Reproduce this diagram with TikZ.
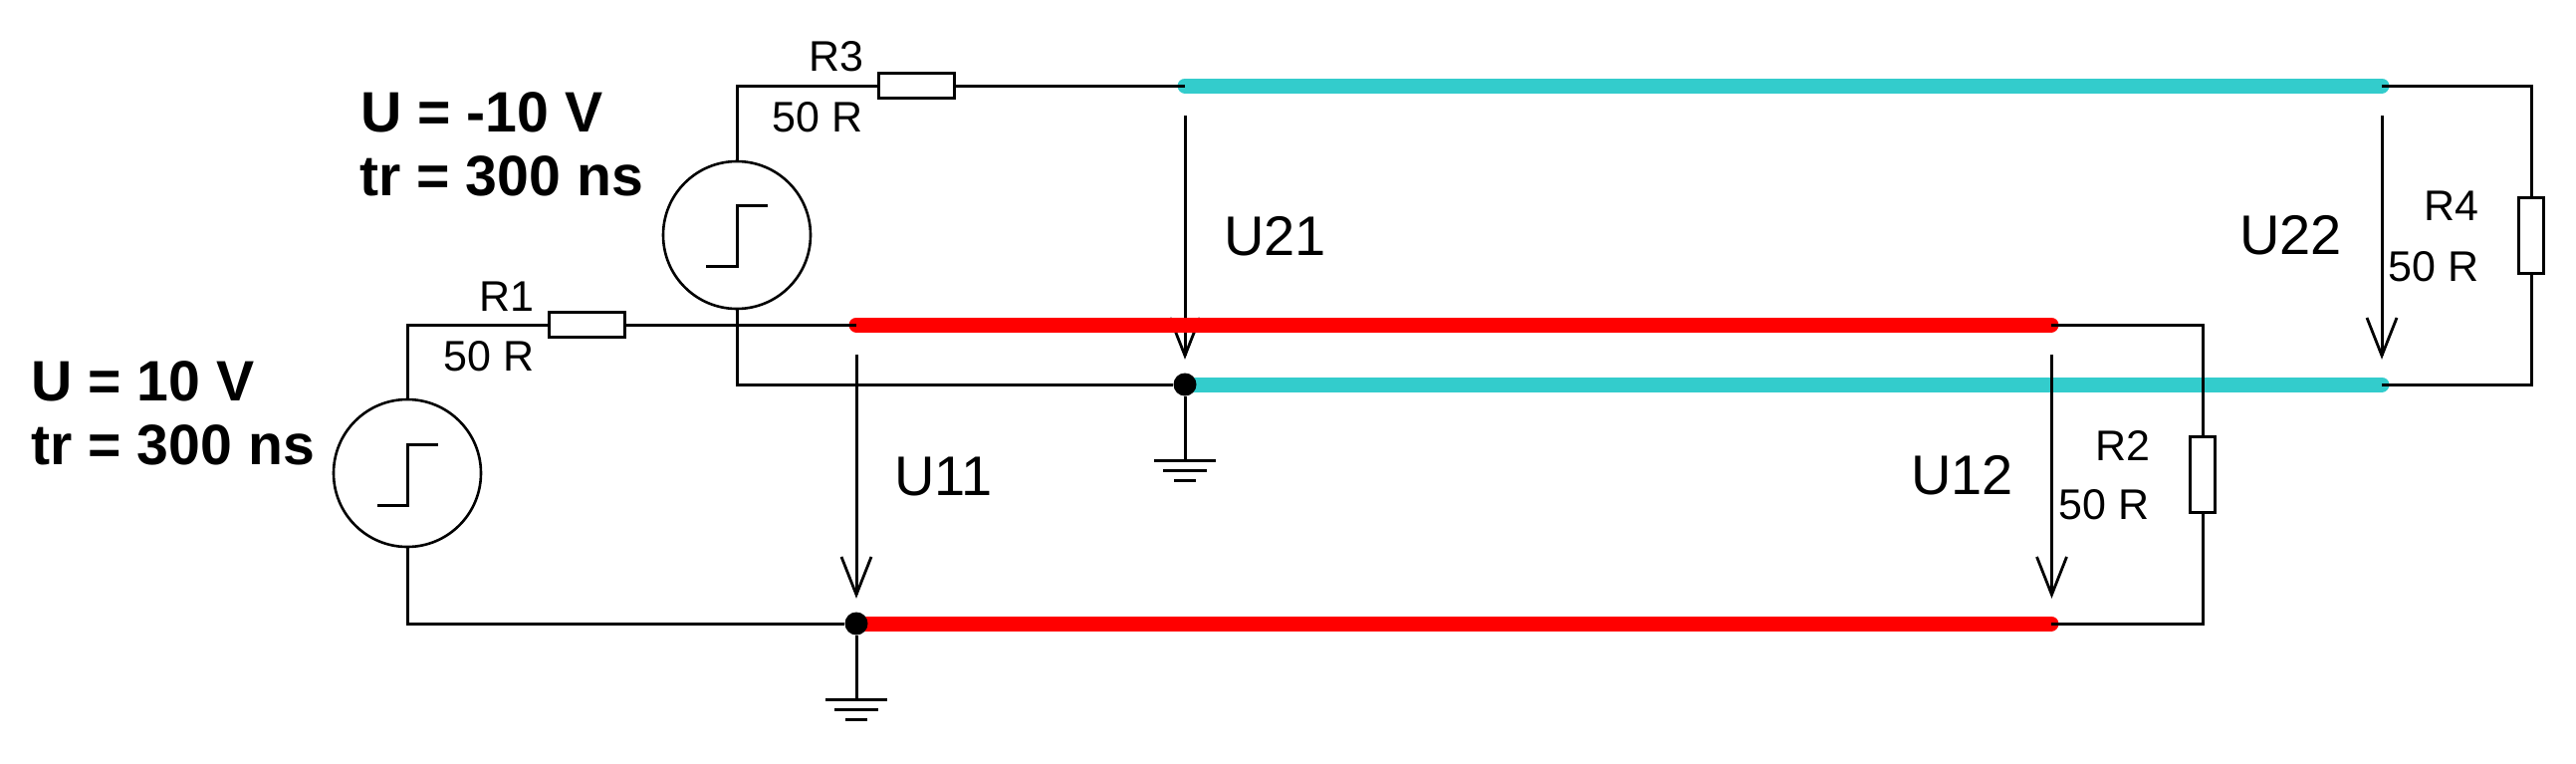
\documentclass[tikz,border=0pt]{standalone}
\usepackage{fontspec}
\setmainfont{Liberation Sans}
\tikzset{
  wire/.style={line width=1.5pt,black},
  redline/.style={line width=7.5pt,line cap=round,color={rgb,255:red,255;green,0;blue,0}},
  cyanline/.style={line width=7.5pt,line cap=round,color={rgb,255:red,51;green,204;blue,204}},
  resbox/.style={draw=black,line width=1.5pt,fill=white,inner sep=0pt,minimum width=38pt,minimum height=12.5pt},
  resboxv/.style={draw=black,line width=1.5pt,fill=white,inner sep=0pt,minimum width=12.5pt,minimum height=38pt},
  source/.style={circle,draw=black,line width=1.3pt,fill=white,inner sep=0pt,minimum size=74pt},
  dotnode/.style={circle,fill=black,inner sep=0pt,minimum size=11.5pt},
  lab/.style={anchor=base west,inner sep=0pt,font=\fontsize{21.5}{21.5}\selectfont},
  ulab/.style={anchor=base west,inner sep=0pt,font=\fontsize{28}{28}\selectfont},
  blab/.style={anchor=base west,inner sep=0pt,font=\fontsize{28.6}{28.6}\selectfont\bfseries},
  varrow/.style={line width=1.5pt},
  barb/.style={line width=1.4pt,line join=miter}
}
\begin{document}
\begin{tikzpicture}[x=0.5pt,y=-0.5pt]
\useasboundingbox (0,0) rectangle (2587,766);
% named points
\coordinate (RS) at (860,326); \coordinate (RE) at (2060,326);
\coordinate (RS2) at (860,626); \coordinate (RE2) at (2060,626);
\coordinate (CS) at (1190,86); \coordinate (CE) at (2392,86);
\coordinate (CS2) at (1190,386); \coordinate (CE2) at (2392,386);
% transmission lines (cyan below, U21 arrow passes under the red line)
\draw[cyanline] (CS) -- (CE);
\draw[cyanline] (CS2) -- (CE2);
\foreach \n/\x/\y in {C/1190/116}{
  \coordinate (\n a) at (\x,\y);
  \coordinate (\n b) at (\x,\y+241);
  \draw[varrow] (\n a) -- (\n b);
  \draw[barb] ([xshift=-7.5pt,yshift=19pt]\n b) -- (\n b) -- ([xshift=7.5pt,yshift=19pt]\n b);
}
\draw[redline] (RS) -- (RE);
\draw[redline] (RS2) -- (RE2);
% components
\node[source] (S1) at (409,475) {};
\node[source] (S2) at (740,236) {};
\node[resbox] (R1) at (589.5,326) {};
\node[resbox] (R3) at (920,86) {};
\node[resboxv] (R2) at (2212,476.5) {};
\node[resboxv] (R4) at (2542,236) {};
\node[dotnode] (D1) at (RS2) {};
\node[dotnode] (D2) at (CS2) {};
% wires
\draw[wire] (S1.north) |- (R1.west);
\draw[wire] (R1.east) -- (RS);
\draw[wire] (S1.south) |- (D1);
\draw[wire] (S2.north) |- (R3.west);
\draw[wire] (R3.east) -- (CS);
\draw[wire] (S2.south) |- (D2);
\draw[wire] (RE) -| (R2.north);
\draw[wire] (R2.south) |- (RE2);
\draw[wire] (CE) -| (R4.north);
\draw[wire] (R4.south) |- (CE2);
% step symbols
\draw[wire] (379,507) -| (409,446) -- (440,446);
\draw[wire] (709,267) -| (740,206) -- (771,206);
% grounds
\foreach \d/\x/\y in {D1/860/626,D2/1190/386}{
  \coordinate (G\d) at (\x,\y+76);
  \draw[wire] (\d) -- (G\d);
  \draw[wire] ([xshift=-15.5pt]G\d) -- ([xshift=15.5pt]G\d);
  \draw[wire] ([xshift=-11pt,yshift=-5pt]G\d) -- ([xshift=11pt,yshift=-5pt]G\d);
  \draw[wire] ([xshift=-5.5pt,yshift=-10pt]G\d) -- ([xshift=5.5pt,yshift=-10pt]G\d);
}
% voltage arrows
\foreach \n/\x/\y in {A/860/356,B/2060.5/356,D/2392/116}{
  \coordinate (\n a) at (\x,\y);
  \coordinate (\n b) at (\x,\y+241);
  \draw[varrow] (\n a) -- (\n b);
  \draw[barb] ([xshift=-7.5pt,yshift=19pt]\n b) -- (\n b) -- ([xshift=7.5pt,yshift=19pt]\n b);
}
% labels
\node[blab] (t1) at (362,132) {U = -10 V};
\node[blab] (t2) at (361,196) {tr = 300 ns};
\node[blab] (t3) at (31,402) {U = 10 V};
\node[blab] (t4) at (31,466) {tr = 300 ns};
\node[lab] (l1) at (812,71) {R3};
\node[lab] (l2) at (775,132) {50 R};
\node[lab] (l3) at (481,312) {R1};
\node[lab] (l4) at (445,372) {50 R};
\node[lab] (l5) at (2104,462) {R2};
\node[lab] (l6) at (2067,521) {50 R};
\node[lab] (l7) at (2434,221) {R4};
\node[lab] (l8) at (2398,282) {50 R};
\node[ulab] (u1) at (898,497) {U11};
\node[ulab] (u2) at (1919,496) {U12};
\node[ulab] (u3) at (1229,256) {U21};
\node[ulab] (u4) at (2249,255) {U22};
\end{tikzpicture}
\end{document}
